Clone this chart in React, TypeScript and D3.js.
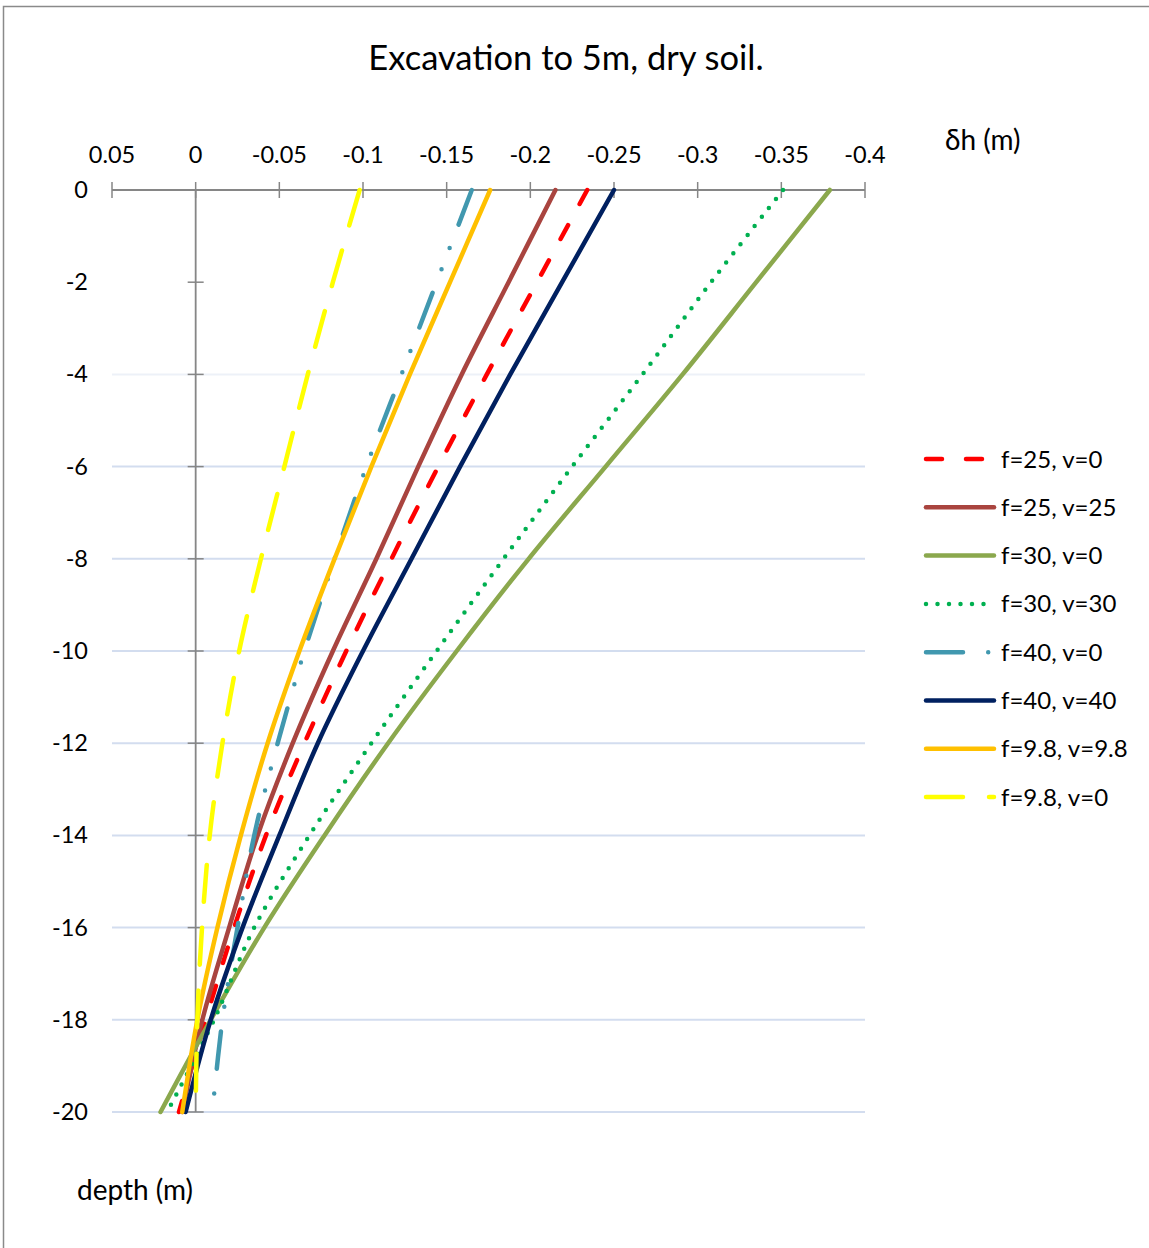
import React from "react";
import * as d3 from "d3";

// depth (m) of each reading
const depths = [0, -2, -4, -6, -8, -10, -12, -14, -16, -18, -20];

// horizontal displacement δh (m) per series
const f25v0 = [-0.234, -0.204, -0.174, -0.145, -0.117, -0.090, -0.065, -0.042, -0.023, -0.006, 0.010];
const f25v25 = [-0.215, -0.187, -0.159, -0.133, -0.108, -0.082, -0.058, -0.037, -0.020, -0.004, 0.008];
const f30v0 = [-0.379, -0.335, -0.291, -0.245, -0.199, -0.156, -0.115, -0.077, -0.041, -0.009, 0.021];
const f30v30 = [-0.351, -0.308, -0.267, -0.225, -0.184, -0.144, -0.105, -0.068, -0.035, -0.011, 0.017];
const f40v0 = [-0.165, -0.144, -0.123, -0.102, -0.083, -0.065, -0.049, -0.035, -0.025, -0.016, -0.010];
const f40v40 = [-0.250, -0.219, -0.188, -0.158, -0.129, -0.100, -0.073, -0.050, -0.028, -0.009, 0.006];
const f98v98 = [-0.176, -0.152, -0.128, -0.105, -0.083, -0.062, -0.043, -0.027, -0.013, -0.001, 0.008];
const f98v0 = [-0.098, -0.082, -0.067, -0.053, -0.039, -0.026, -0.016, -0.0084, -0.0038, -0.001, 0.0];

const xTicks = [0.05, 0, -0.05, -0.1, -0.15, -0.2, -0.25, -0.3, -0.35, -0.4];
const xTickLabels = ["0.05", "0", "-0.05", "-0.1", "-0.15", "-0.2", "-0.25", "-0.3", "-0.35", "-0.4"];
const yTicks = [0, -2, -4, -6, -8, -10, -12, -14, -16, -18, -20];

const series = [
  { name: "f=25, v=0", values: f25v0, color: "#FF0000", dash: "16 24" },
  { name: "f=25, v=25", values: f25v25, color: "#A9443F", dash: null },
  { name: "f=30, v=0", values: f30v0, color: "#8BA84D", dash: null },
  { name: "f=30, v=30", values: f30v30, color: "#00B050", dash: "0 11.5" },
  { name: "f=40, v=0", values: f40v0, color: "#4198AF", dash: "37 25.2 0 22.7 0 25.2" },
  { name: "f=40, v=40", values: f40v40, color: "#002060", dash: null },
  { name: "f=9.8, v=9.8", values: f98v98, color: "#FFC000", dash: null },
  { name: "f=9.8, v=0", values: f98v0, color: "#FFFF00", dash: "37 26" },
];

const font = "Lato, 'Open Sans', sans-serif";

export default function App() {
  const x = d3.scaleLinear().domain([0.05, -0.4]).range([112, 865]);
  const y = d3.scaleLinear().domain([0, -20]).range([190, 1112]);
  const x0 = x(0);

  const line = d3
    .line<number>()
    .x((d) => x(d))
    .y((_, i) => y(depths[i]))
    .curve(d3.curveCatmullRom);

  return (
    <svg
      width={1149}
      height={1248}
      style={{ position: "absolute", left: 0, top: 0, background: "#fff" }}
    >
      <rect x={3.5} y={6.5} width={1160} height={1260} fill="#fff" stroke="#8a8a8a" strokeWidth={1.5} />

      <text x={566} y={70} textAnchor="middle" fontFamily={font} fontSize={34.5} fill="#000">
        Excavation to 5m, dry soil.
      </text>

      {/* gridlines */}
      {yTicks
        .filter((t) => t <= -4)
        .map((t) => (
          <line
            key={"g" + t}
            x1={112}
            x2={865}
            y1={y(t)}
            y2={y(t)}
            stroke={t === -4 ? "#EDF1F8" : "#D3DDEF"}
            strokeWidth={2}
          />
        ))}

      {/* x axis at depth 0 */}
      <line x1={112} x2={865} y1={y(0)} y2={y(0)} stroke="#868686" strokeWidth={1.8} />
      {xTicks.map((t, i) => (
        <g key={"xt" + t}>
          <line x1={x(t)} x2={x(t)} y1={y(0) - 8} y2={y(0) + 8} stroke="#868686" strokeWidth={1.5} />
          <text
            x={x(t)}
            y={163}
            textAnchor="middle"
            fontFamily={font}
            fontSize={23.5}
            fill="#000"
          >
            {xTickLabels[i]}
          </text>
        </g>
      ))}

      {/* y axis at δh = 0 */}
      <line x1={x0} x2={x0} y1={y(0)} y2={y(-20)} stroke="#868686" strokeWidth={1.8} />
      {yTicks.map((t) => (
        <g key={"yt" + t}>
          <line x1={x0 - 8} x2={x0 + 8} y1={y(t)} y2={y(t)} stroke="#868686" strokeWidth={1.5} />
          <text
            x={88}
            y={y(t) + 8}
            textAnchor="end"
            fontFamily={font}
            fontSize={23.5}
            fill="#000"
          >
            {t}
          </text>
        </g>
      ))}

      {/* series */}
      {series.map((s) => (
        <path
          key={s.name}
          d={line(s.values) || ""}
          fill="none"
          stroke={s.color}
          strokeWidth={4.5}
          strokeLinecap="round"
          strokeLinejoin="round"
          strokeDasharray={s.dash || undefined}
        />
      ))}

      {/* axis titles */}
      <text x={945} y={150} fontFamily={font} fontSize={28} fill="#000">
        δh (m)
      </text>
      <text x={77} y={1200} fontFamily={font} fontSize={28} fill="#000">
        depth (m)
      </text>

      {/* legend */}
      {series.map((s, i) => {
        const ly = 459 + i * 48.3;
        return (
          <g key={"lg" + s.name}>
            <line
              x1={926}
              x2={994}
              y1={ly}
              y2={ly}
              stroke={s.color}
              strokeWidth={4.5}
              strokeLinecap="round"
              strokeDasharray={s.dash || undefined}
            />
            <text x={1001} y={ly + 8.5} fontFamily={font} fontSize={24} fill="#000">
              {s.name}
            </text>
          </g>
        );
      })}
    </svg>
  );
}
